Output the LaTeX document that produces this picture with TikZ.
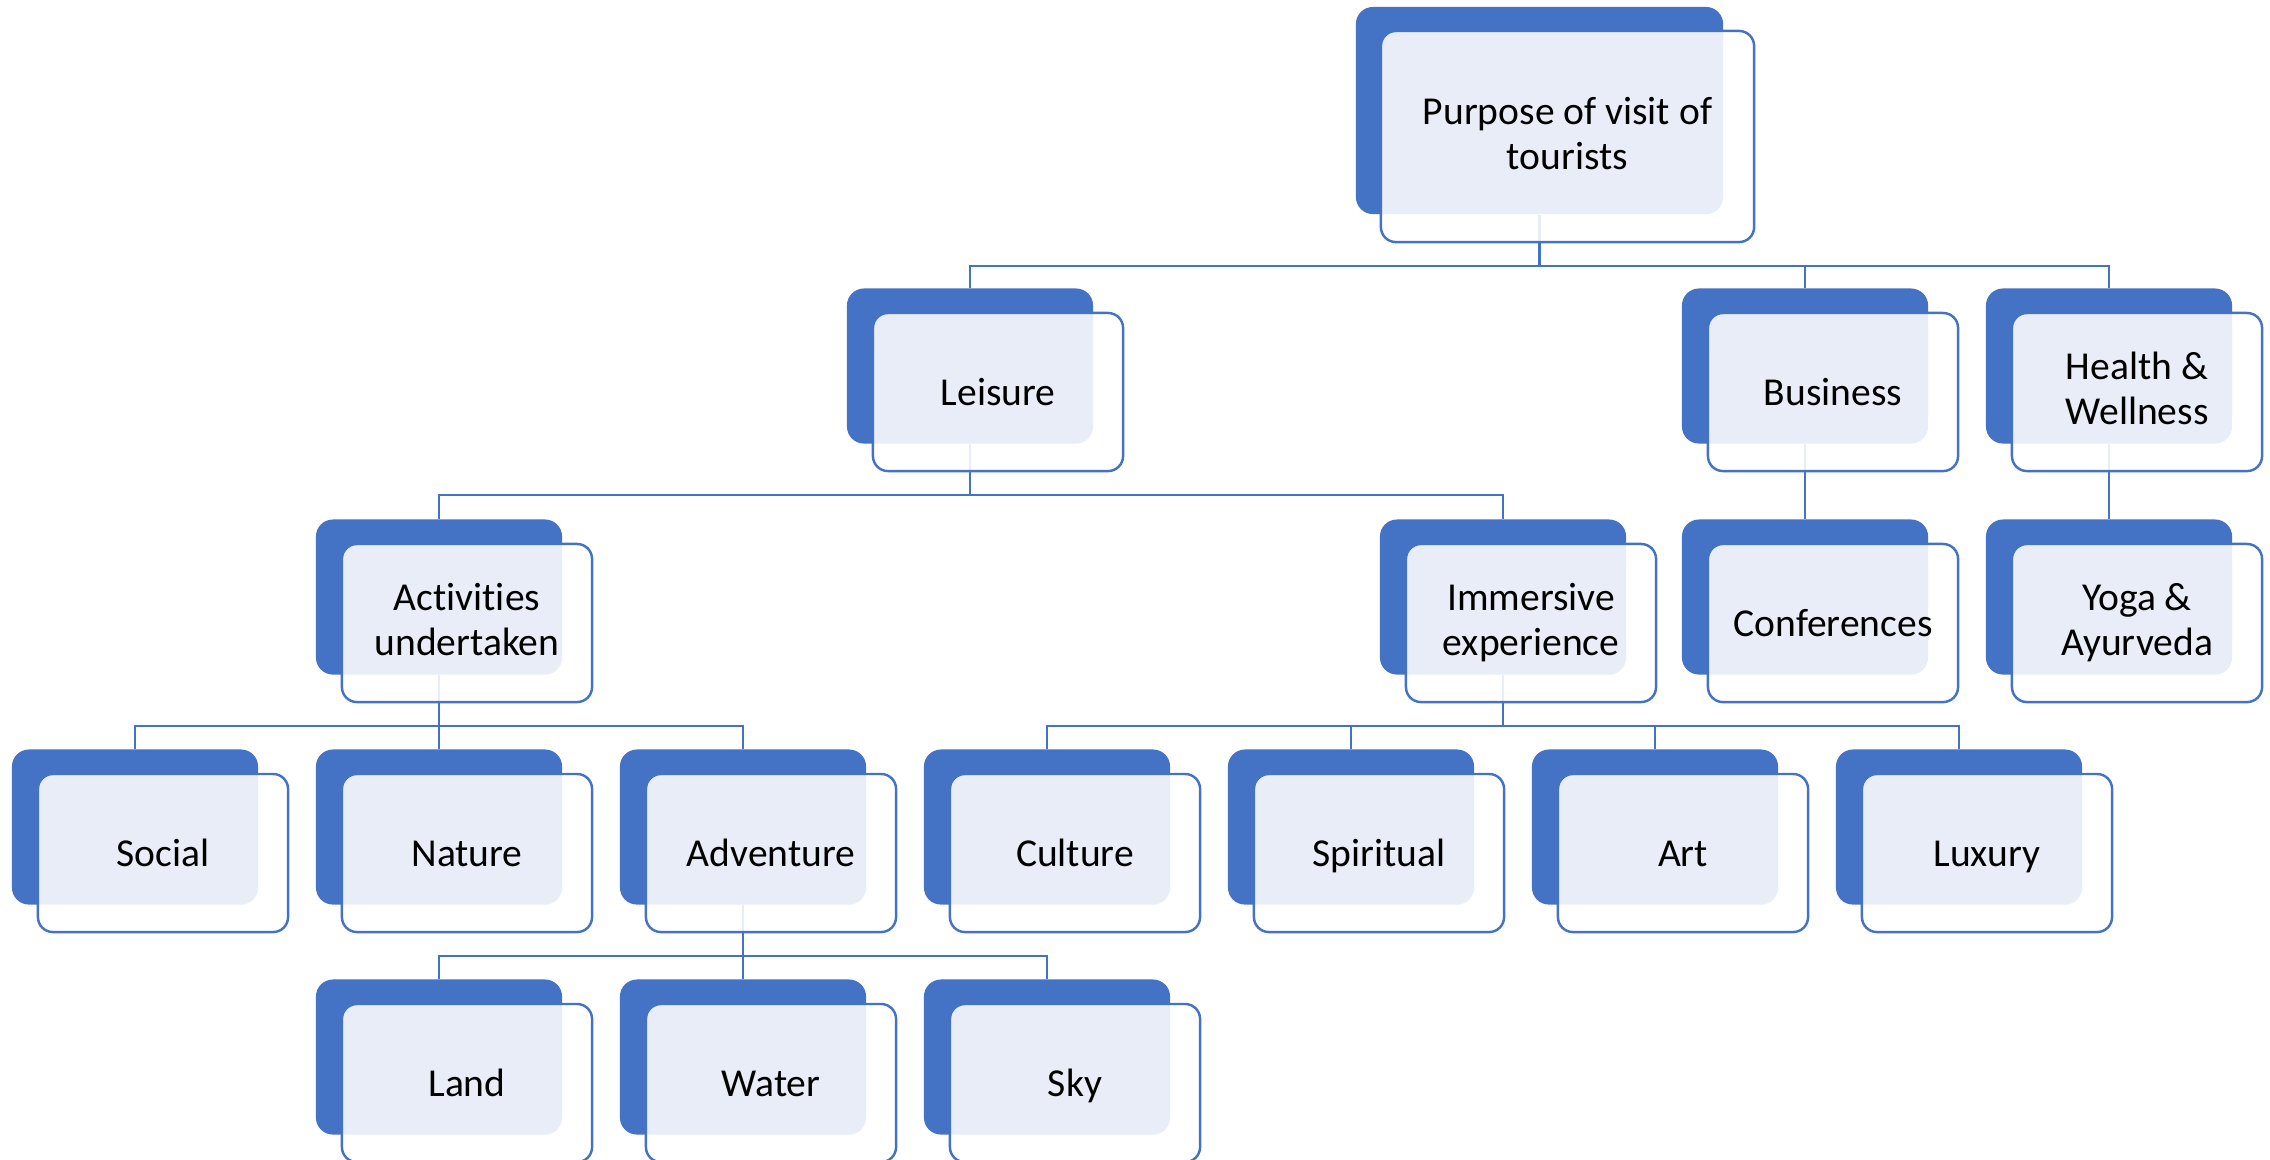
\documentclass[tikz,border=0pt]{standalone}
\usepackage{fontspec}
\setmainfont{Carlito}[Ligatures=NoCommon]
\usetikzlibrary{positioning}

\definecolor{accent}{RGB}{68,114,196}

\begin{document}
\begin{tikzpicture}[x=0.01cm, y=-0.01cm,
    back/.style={fill=accent, rounded corners=0.17cm, minimum width=2.46cm,
      minimum height=1.55cm, inner sep=0pt},
    card/.style={draw=accent, line width=0.7pt, fill=white, fill opacity=0.88,
      text opacity=1, rounded corners=0.15cm, minimum width=2.5cm,
      minimum height=1.58cm, inner sep=0pt, align=center,
      font=\fontsize{11.25}{12.8}\selectfont,
      execute at begin node={\rule[-3.2pt]{0pt}{13.9pt}},
      execute at end node={\rule[-3.2pt]{0pt}{13.9pt}}},
    link/.style={draw=accent, line width=0.65pt}]

    % 画布范围
    \useasboundingbox (0,0) rectangle (2270,1159);

    % 根节点 (底板)
    \node[back, minimum width=3.67cm, minimum height=2.07cm] (root) at (1539.5,110.5) {};

    % 各层底板
    \foreach \nd/\x/\y in {leisure/970/366, business/1805/366, health/2109/366,
        activities/439/597, immersive/1503/597, conferences/1805/597, yoga/2109/597,
        social/135/827, nature/439/827, adventure/743/827, culture/1047/827,
        spiritual/1351/827, art/1655/827, luxury/1959/827,
        land/439/1057, water/743/1057, sky/1047/1057}
      \node[back] (\nd) at (\x,\y) {};

    % 连线
    \foreach \c in {leisure, business, health}
      \draw[link] (root.south) -- ++(0,51) -| (\c.north);
    \foreach \c in {activities, immersive}
      \draw[link] (leisure.south) -- ++(0,51) -| (\c.north);
    \foreach \c in {social, nature, adventure}
      \draw[link] (activities.south) -- ++(0,51) -| (\c.north);
    \foreach \c in {culture, spiritual, art, luxury}
      \draw[link] (immersive.south) -- ++(0,51) -| (\c.north);
    \foreach \c in {land, water, sky}
      \draw[link] (adventure.south) -- ++(0,51) -| (\c.north);
    \draw[link] (business.south) -- (conferences.north);
    \draw[link] (health.south) -- (yoga.north);

    % 前景卡片与文字 (两行的标签稍往下压)
    \node[card, minimum width=3.73cm, minimum height=2.11cm] (root-t)
      at ([shift={(28,26)}]root.center)
      {\raisebox{-1.2pt}{Purpose of visit of}\\\raisebox{-1.2pt}{tourists}};
    \foreach \nd/\la/\lb in {health/{Health \&}/Wellness,
        activities/Activities/undertaken, immersive/Immersive/experience,
        yoga/{Yoga \&}/Ayurveda}
      \node[card] (\nd-t) at ([shift={(28,26)}]\nd.center)
        {\raisebox{-1.2pt}{\la}\\\raisebox{-1.2pt}{\lb}};
    \foreach \nd/\lbl in {leisure/Leisure, business/Business,
        conferences/Conferences, social/Social, nature/Nature,
        adventure/Adventure, culture/Culture, spiritual/Spiritual, art/Art,
        luxury/Luxury, land/Land, water/Water, sky/Sky}
      \node[card] (\nd-t) at ([shift={(28,26)}]\nd.center) {\lbl};
\end{tikzpicture}
\end{document}
